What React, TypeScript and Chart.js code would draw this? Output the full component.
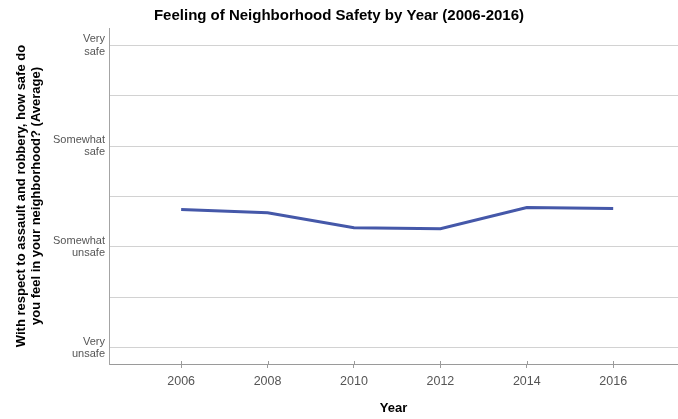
import React, { useEffect, useRef } from "react";
import { Chart, registerables } from "chart.js";

Chart.register(...registerables);

const years = [2006, 2008, 2010, 2012, 2014, 2016];
const safety = [2.37, 2.34, 2.19, 2.18, 2.39, 2.38];
const yTickValues = [1, 1.5, 2, 2.5, 3, 3.5, 4];
const yTickLabels: Record<string, string[]> = {
  "1": ["Very", "unsafe"],
  "2": ["Somewhat", "unsafe"],
  "3": ["Somewhat", "safe"],
  "4": ["Very", "safe"],
};
const chartTitle = "Feeling of Neighborhood Safety by Year (2006-2016)";
const yTitle = ["With respect to assault and robbery, how safe do", "you feel in your neighborhood? (Average)"];
const xTitle = "Year";

const FONT = "'Liberation Sans', Arial, Helvetica, sans-serif";

const innerTicks = {
  id: "innerTicks",
  afterDraw(chart: any) {
    const xs = chart.scales.x;
    const ctx = chart.ctx;
    const bottom = chart.chartArea.bottom;
    ctx.save();
    ctx.strokeStyle = "#9a9a9a";
    ctx.lineWidth = 1;
    xs.ticks.forEach((t: any) => {
      const px = Math.round(xs.getPixelForValue(t.value)) + 0.5;
      ctx.beginPath();
      ctx.moveTo(px, bottom - 3);
      ctx.lineTo(px, bottom);
      ctx.stroke();
    });
    ctx.restore();
  },
};

export default function App() {
  const ref = useRef<HTMLCanvasElement>(null);
  useEffect(() => {
    if (!ref.current) return;
    const chart = new Chart(ref.current, {
      type: "line",
      data: {
        datasets: [
          {
            data: years.map((y, i) => ({ x: y, y: safety[i] })),
            borderColor: "#4558a9",
            borderWidth: 3,
            pointRadius: 0,
            tension: 0,
            fill: false,
          },
        ],
      },
      options: {
        animation: false,
        responsive: false,
        layout: { padding: 0 },
        plugins: {
          legend: { display: false },
          tooltip: { enabled: false },
          title: {
            display: true,
            text: chartTitle,
            color: "#000",
            font: { family: FONT, size: 15, weight: "bold", lineHeight: 1.2 },
            padding: { top: 7, bottom: 3 },
          },
        },
        scales: {
          x: {
            type: "linear",
            min: 2004.33,
            max: 2017.5,
            afterBuildTicks: (s: any) => {
              s.ticks = years.map((v) => ({ value: v }));
            },
            afterFit: (s: any) => {
              s.height = 55;
            },
            ticks: {
              autoSkip: false,
              maxRotation: 0,
              padding: 6,
              color: "#555",
              font: { family: FONT, size: 12.5, lineHeight: 1.2 },
              callback: (v: any) => String(v),
            },
            grid: {
              display: true,
              drawOnChartArea: false,
              drawTicks: true,
              tickLength: 4,
              tickColor: "#9a9a9a",
            },
            border: { display: true, color: "#9a9a9a", width: 1 },
            title: {
              display: true,
              text: xTitle,
              color: "#000",
              font: { family: FONT, size: 13, weight: "bold", lineHeight: 1.2 },
              padding: { top: 0, bottom: 3 },
            },
          },
          y: {
            type: "linear",
            min: 0.84,
            max: 4.17,
            afterBuildTicks: (s: any) => {
              s.ticks = yTickValues.map((v) => ({ value: v }));
            },
            afterFit: (s: any) => {
              s.width = 109;
            },
            ticks: {
              autoSkip: false,
              padding: 4,
              color: "#555",
              font: { family: FONT, size: 11, lineHeight: 1.15 },
              callback: (v: any) => yTickLabels[String(v)] || "",
            },
            grid: {
              display: true,
              drawTicks: false,
              color: "#d2d2d2",
              lineWidth: 1,
            },
            border: { display: true, color: "#a4a4a4", width: 1 },
            title: {
              display: true,
              text: yTitle,
              color: "#000",
              font: { family: FONT, size: 13, weight: "bold", lineHeight: 1.15 },
              padding: { top: 13.5, bottom: 0 },
            },
          },
        },
      },
      plugins: [innerTicks],
    } as any);
    return () => chart.destroy();
  }, []);
  return (
    <div style={{ position: "absolute", left: 0, top: 0, width: 678, height: 419, background: "#fff" }}>
      <canvas ref={ref} width={678} height={419} style={{ display: "block", width: 678, height: 419 }} />
    </div>
  );
}
